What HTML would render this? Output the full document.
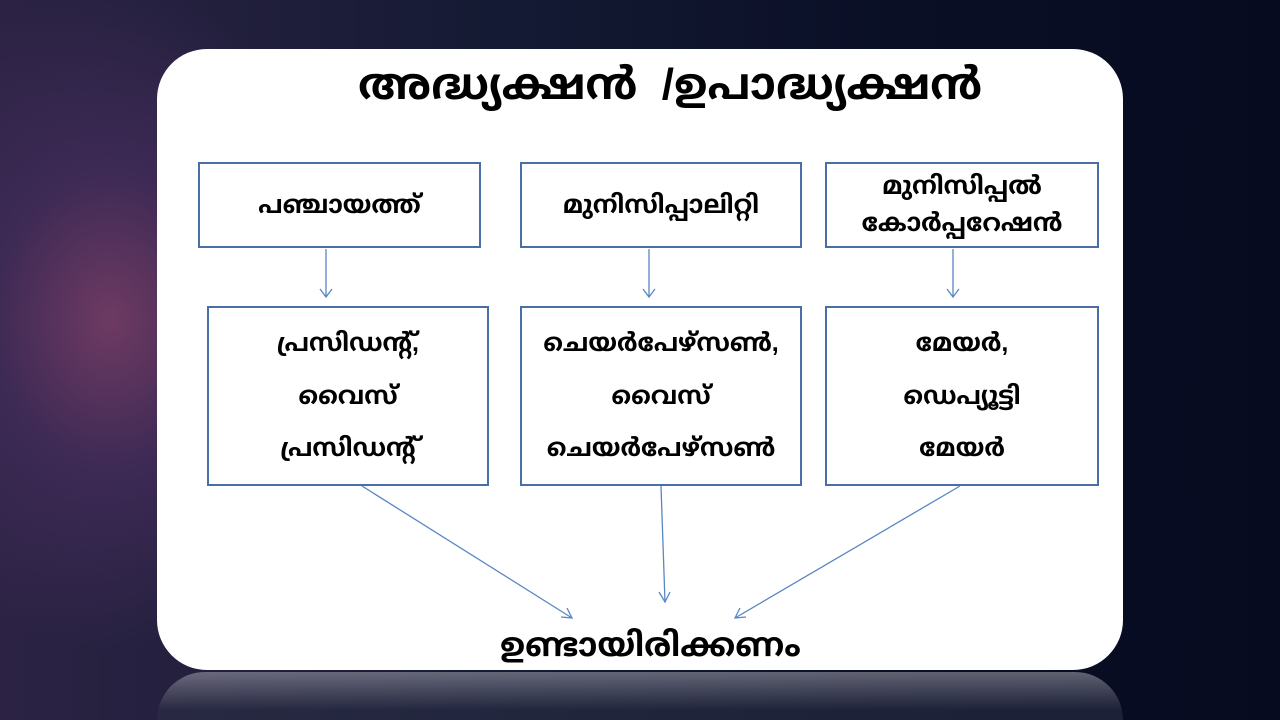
<!DOCTYPE html>
<html><head><meta charset="utf-8"><style>
html,body{margin:0;width:1280px;height:720px;overflow:hidden}
body{position:relative;
background:radial-gradient(ellipse 260px 330px at 110px 320px,#6e3a62 0%,#3d2a55 45%,transparent 100%),linear-gradient(90deg,#2c2344 0%,#141a33 40%,#0a0f26 70%,#070b20 100%);
font-family:"Liberation Sans","Noto Sans Malayalam","Noto Sans CJK SC",sans-serif;font-weight:bold;color:#000}
.card{position:absolute;left:157px;top:49px;width:966px;height:621px;background:#fff;border-radius:50px}
.refl{position:absolute;left:157px;top:672px;width:966px;height:48px;background:linear-gradient(#9a9aa6,#2a2e44 80%);border-radius:50px 50px 0 0;opacity:.6}
.box{position:absolute;border:2.5px solid #4a6ea6;box-sizing:border-box;background:#fff;display:flex;align-items:center;justify-content:center;text-align:center;font-size:25px;line-height:1.6}
.t{position:absolute;white-space:pre}
</style></head><body>
<div class="card"></div>
<div class="refl"></div>
<div class="t" style="left:358px;top:60px;font-size:44px">അദ്ധ്യക്ഷൻ  /ഉപാദ്ധ്യക്ഷൻ</div>
<div class="box" style="left:198px;top:162px;width:283px;height:86px">പഞ്ചായത്ത്</div>
<div class="box" style="left:520px;top:162px;width:282px;height:86px">മുനിസിപ്പാലിറ്റി</div>
<div class="box" style="left:825px;top:162px;width:274px;height:86px;line-height:1.5">മുനിസിപ്പൽ<br>കോർപ്പറേഷൻ</div>
<div class="box" style="left:207px;top:306px;width:282px;height:180px;line-height:2.1">പ്രസിഡന്റ്,<br>വൈസ്<br>പ്രസിഡന്റ്</div>
<div class="box" style="left:520px;top:306px;width:282px;height:180px;line-height:2.1">ചെയർപേഴ്സൺ,<br>വൈസ്<br>ചെയർപേഴ്സൺ</div>
<div class="box" style="left:825px;top:306px;width:274px;height:180px;line-height:2.1">മേയർ,<br>ഡെപ്യൂട്ടി<br>മേയർ</div>
<svg style="position:absolute;left:0;top:0" width="1280" height="720">
<g stroke="#5a86c4" stroke-width="1.3" fill="none">
<path d="M326 249V297M320 289L326 297L332 289"/>
<path d="M649 249V297M643 289L649 297L655 289"/>
<path d="M953 249V297M947 289L953 297L959 289"/>
<path d="M362 486L572 618M561 617L572 618L567 608"/>
<path d="M661 486L665 602M659 592L665 602L670 592"/>
<path d="M960 486L735 618M740 608L735 618L746 617"/>
</g></svg>
<div class="t" style="left:500px;top:626px;font-size:33px">ഉണ്ടായിരിക്കണം</div>
</body></html>
